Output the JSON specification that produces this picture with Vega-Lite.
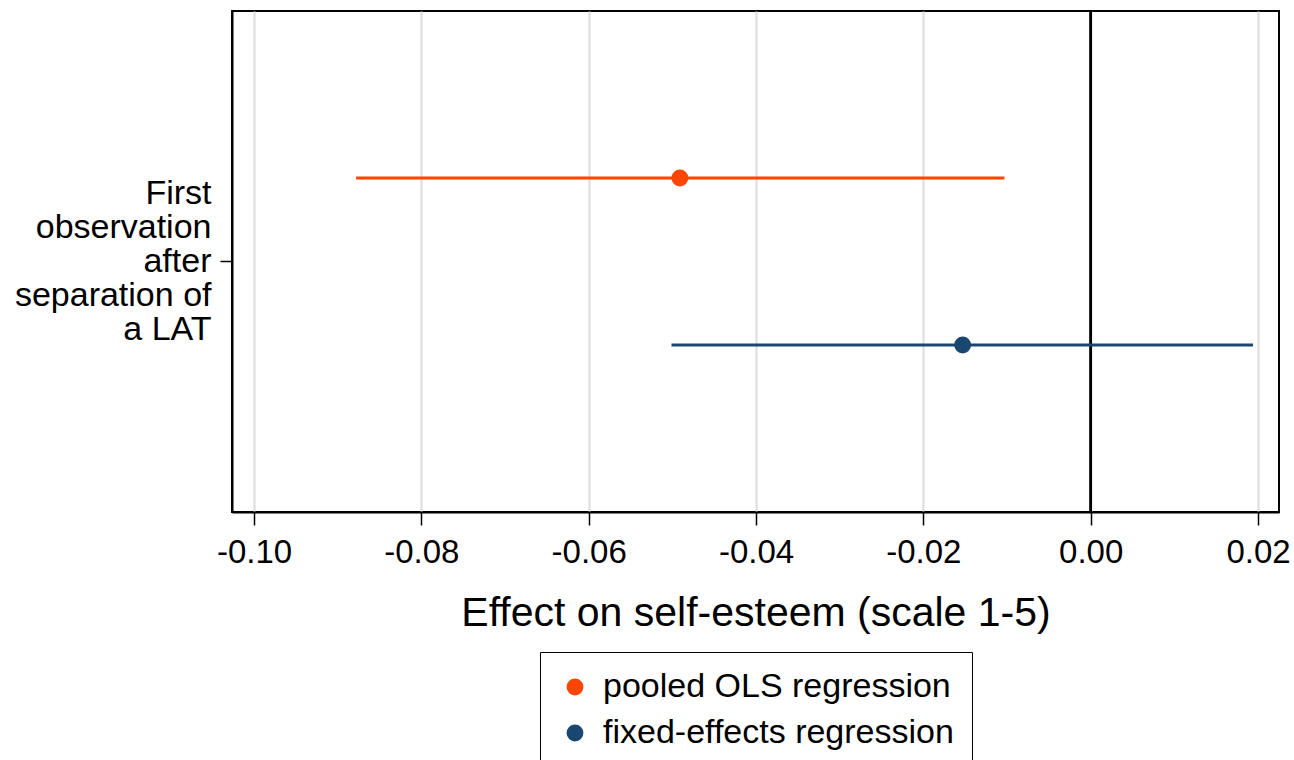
{
  "$schema": "https://vega.github.io/schema/vega-lite/v6.json",
  "width": 1047,
  "height": 501,
  "autosize": {"type": "none"},
  "padding": {"left": 232, "top": 11, "right": 15, "bottom": 248},
  "background": "white",
  "config": {
    "font": "Liberation Sans",
    "view": {"stroke": "black", "strokeWidth": 2}
  },
  "data": {
    "values": [
      {"outcome": "First observation after separation of a LAT", "model": "pooled OLS regression", "est": -0.0491, "lo": -0.0878, "hi": -0.0103},
      {"outcome": "First observation after separation of a LAT", "model": "fixed-effects regression", "est": -0.0153, "lo": -0.0501, "hi": 0.0194}
    ]
  },
  "encoding": {
    "y": {
      "field": "outcome",
      "type": "nominal",
      "scale": {"padding": 0},
      "axis": {
        "title": null,
        "labelExpr": "['First','observation','after','separation of','a LAT']",
        "labelFontSize": 34,
        "labelLineHeight": 34,
        "labelBaseline": "middle",
        "labelOffset": -68,
        "labelLimit": 400,
        "labelPadding": 9,
        "labelColor": "black",
        "tickColor": "black",
        "tickSize": 12,
        "tickWidth": 1.5,
        "domainColor": "black",
        "domainWidth": 2
      }
    },
    "yOffset": {
      "field": "model",
      "type": "nominal",
      "sort": ["pooled OLS regression", "fixed-effects regression"],
      "scale": {"type": "point", "padding": 1}
    },
    "color": {
      "field": "model",
      "type": "nominal",
      "sort": ["pooled OLS regression", "fixed-effects regression"],
      "scale": {"domain": ["pooled OLS regression", "fixed-effects regression"], "range": ["#ff4500", "#1a476f"]},
      "legend": {
        "title": null,
        "orient": "none",
        "legendX": 308,
        "legendY": 641,
        "strokeColor": "black",
        "fillColor": "white",
        "padding": 18,
        "labelFontSize": 34,
        "labelColor": "black",
        "labelLimit": 600,
        "symbolType": "circle",
        "symbolSize": 283,
        "symbolStrokeWidth": 0,
        "symbolOpacity": 1,
        "rowPadding": 12,
        "labelOffset": 11
      }
    }
  },
  "layer": [
    {
      "mark": {"type": "rule", "color": "black", "strokeWidth": 2.5},
      "encoding": {
        "x": {"datum": 0, "type": "quantitative"},
        "y": null,
        "yOffset": null,
        "color": null
      }
    },
    {
      "mark": {"type": "rule", "strokeWidth": 3},
      "encoding": {
        "x": {
          "field": "lo",
          "type": "quantitative",
          "scale": {"domain": [-0.10263, 0.02251], "nice": false, "zero": false},
          "axis": {
            "title": "Effect on self-esteem (scale 1-5)",
            "titleFontSize": 41,
            "titleFontWeight": "normal",
            "titleColor": "black",
            "titlePadding": 24,
            "values": [-0.1, -0.08, -0.06, -0.04, -0.02, 0, 0.02],
            "labelExpr": "replace(format(datum.value, '.2f'), '−', '-')",
            "labelFontSize": 33,
            "labelColor": "black",
            "labelPadding": 11,
            "tickColor": "black",
            "tickSize": 13,
            "tickWidth": 1.5,
            "domainColor": "black",
            "domainWidth": 2,
            "grid": true,
            "gridColor": "#dcdcdc",
            "gridWidth": 2
          }
        },
        "x2": {"field": "hi"}
      }
    },
    {
      "mark": {"type": "point", "filled": true, "opacity": 1, "size": 283},
      "encoding": {
        "x": {"field": "est", "type": "quantitative"}
      }
    }
  ]
}
